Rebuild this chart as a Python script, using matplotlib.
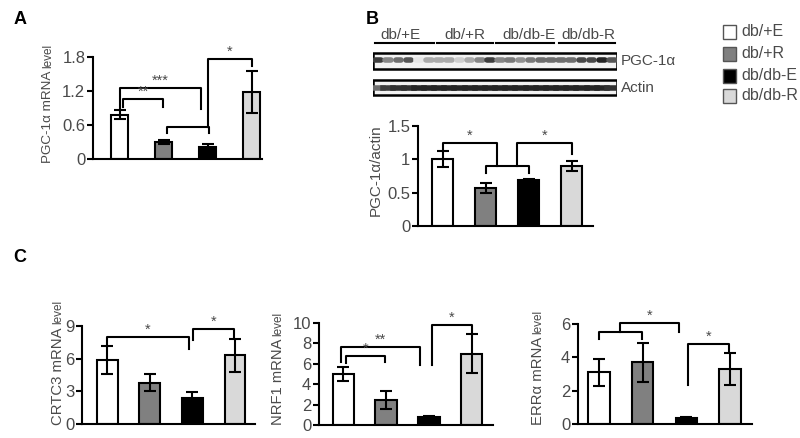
import matplotlib.pyplot as plt

plt.rcParams['font.family'] = ['Liberation Sans', 'DejaVu Sans']

groups = ["db/+E", "db/+R", "db/db-E", "db/db-R"]
colors = ["#ffffff", "#808080", "#000000", "#d9d9d9"]

# panel A
pgc_mrna = [0.78, 0.30, 0.21, 1.18]
pgc_mrna_err = [0.08, 0.04, 0.06, 0.37]
# panel B
pgc_actin = [1.0, 0.57, 0.69, 0.90]
pgc_actin_err = [0.12, 0.07, 0.02, 0.08]
# panel C
crtc3 = [5.9, 3.8, 2.35, 6.3]
crtc3_err = [1.3, 0.75, 0.55, 1.5]
nrf1 = [5.0, 2.45, 0.75, 7.0]
nrf1_err = [0.7, 0.85, 0.15, 1.9]
erra = [3.1, 3.7, 0.35, 3.3]
erra_err = [0.8, 1.15, 0.05, 0.95]

# blot band darkness per lane (24 lanes)
pgc_bands = [0.8, 0.5, 0.6, 0.7, 0.1, 0.35, 0.35, 0.35, 0.2, 0.35, 0.5, 0.8,
             0.5, 0.55, 0.45, 0.55, 0.6, 0.6, 0.6, 0.6, 0.75, 0.75, 0.9, 0.7]
actin_bands = [0.6, 0.8, 0.85, 0.85, 0.9, 0.9, 0.9, 0.9, 0.9, 0.9, 0.9, 0.9,
               0.9, 0.9, 0.9, 0.9, 0.9, 0.9, 0.9, 0.9, 0.9, 0.9, 0.9, 0.85]

W, H = 800, 438
fig = plt.figure(figsize=(8, 4.38), dpi=100)
renderer = fig.canvas.get_renderer()
txtc = "#4a4a4a"


def px_axes(x0, y0, x1, y1):
    return fig.add_axes([x0 / W, 1 - y1 / H, (x1 - x0) / W, (y1 - y0) / H])


def bars(ax, vals, errs, width, xlim, ymax, ticks, ticklabels):
    xs = range(len(vals))
    ax.bar(xs, vals, width=width, color=colors, edgecolor="black", linewidth=1.5, zorder=2)
    ax.errorbar(xs, vals, yerr=errs, fmt="none", ecolor="black", elinewidth=1.5,
                capsize=4, capthick=1.5, zorder=3)
    ax.set_xlim(*xlim)
    ax.set_ylim(0, ymax)
    ax.set_yticks(ticks)
    ax.set_yticklabels(ticklabels, fontsize=12, color=txtc)
    ax.set_xticks([])
    for s in ["top", "right"]:
        ax.spines[s].set_visible(False)
    for s in ["left", "bottom"]:
        ax.spines[s].set_linewidth(1.5)
    ax.tick_params(axis="y", length=4, width=1.5, pad=1.5)


def bracket(ax, x1, x2, y, yl, yr, star):
    ax.plot([x1, x1, x2, x2], [yl, y, y, yr], color="black", lw=1.5, clip_on=False)
    ax.text((x1 + x2) / 2, y, star, ha="center", va="bottom", fontsize=10.5,
            color=txtc, clip_on=False)


def ylabel(x, ybot, ytop, main, small):
    # main part sized to the span seen in the reference, "level" set smaller after it
    t = fig.text(x / W, 1 - ybot / H, main, rotation=90, ha="center", va="bottom",
                 fontsize=10.5, color=txtc)
    ext = t.get_window_extent(renderer)
    t.set_fontsize(10.5 * (ybot - ytop) / ext.height)
    ext = t.get_window_extent(renderer)
    fig.text(x / W, (ext.y1 + 3) / H, small, rotation=90, ha="center", va="bottom",
             fontsize=8.5, color=txtc)


# ---- A
axA = px_axes(93, 57, 262, 159)
bars(axA, pgc_mrna, pgc_mrna_err, 0.39, (-0.61, 3.23), 1.8,
     [0, 0.6, 1.2, 1.8], ["0", "0.6", "1.2", "1.8"])
bracket(axA, 0, 1.84, 1.25, 0.88, 0.88, "***")
bracket(axA, 0.07, 0.98, 1.06, 0.92, 0.92, "**")
bracket(axA, 1.07, 2.02, 0.56, 0.46, 0.46, "")
bracket(axA, 2.0, 3.0, 1.77, 0.56, 1.64, "*")
ylabel(48, 163, 70, "PGC-1\u03b1 mRNA", "level")
fig.text(20 / W, 1 - 20 / H, "A", fontsize=13, fontweight="bold", va="center", ha="center")

# ---- B blot
fig.text(372 / W, 1 - 20 / H, "B", fontsize=13, fontweight="bold", va="center", ha="center")
axBlot = px_axes(373, 30, 617, 100)
axBlot.set_xlim(0, 24)
axBlot.set_ylim(100, 30)
axBlot.axis("off")
lab_x = [2.7, 9.0, 15.3, 21.2]
under = [(0.2, 6.0), (6.3, 11.8), (12.1, 17.8), (18.3, 23.8)]
for g, lx, (u0, u1) in zip(groups, lab_x, under):
    axBlot.text(lx, 35, g, ha="center", va="center", fontsize=11, color=txtc)
    axBlot.plot([u0, u1], [43, 43], color="black", lw=1.5)
for y0, y1, vals, bw, lw, cap in [(53, 69, pgc_bands, 0.55, 4.0, "round"),
                                  (80, 95, actin_bands, 1.0, 4.0, "projecting")]:
    axBlot.add_patch(plt.Rectangle((0, y0), 24, y1 - y0, facecolor="#f2f2f2",
                                   edgecolor="black", lw=1.8))
    yc = (y0 + y1) / 2 + (-1.5 if y0 == 53 else 0.5)
    for i, d in enumerate(vals):
        c = str(round(1 - d * 0.95, 3))
        axBlot.plot([i + 0.5 - bw / 2, i + 0.5 + bw / 2], [yc, yc], color=c, lw=lw,
                    solid_capstyle=cap)
axBlot.text(24.4, 61, "PGC-1\u03b1", ha="left", va="center", fontsize=11, color=txtc)
axBlot.text(24.4, 88, "Actin", ha="left", va="center", fontsize=11, color=txtc)

# ---- B bars
axB = px_axes(418, 126, 593, 226)
bars(axB, pgc_actin, pgc_actin_err, 0.49, (-0.58, 3.49), 1.5,
     [0, 0.5, 1, 1.5], ["0", "0.5", "1", "1.5"])
bracket(axB, 0, 1.26, 1.25, 1.16, 0.90, "*")
bracket(axB, 1.0, 2.0, 0.90, 0.80, 0.80, "")
bracket(axB, 1.72, 3.0, 1.25, 0.90, 1.08, "*")
fig.text(376 / W, 1 - 170 / H, "PGC-1\u03b1/actin", rotation=90, ha="center", va="center",
         fontsize=11, color=txtc)

# legend
leg_y = [32, 54, 76, 96]
for g, c, y in zip(groups, colors, leg_y):
    fig.patches.append(plt.Rectangle((723 / W, 1 - (y + 7) / H), 13 / W, 14 / H,
                                     facecolor=c, edgecolor="#555555", lw=1,
                                     transform=fig.transFigure, figure=fig))
    fig.text(741 / W, 1 - y / H, g, ha="left", va="center", fontsize=11.5, color=txtc)

# ---- C
fig.text(20 / W, 1 - 257 / H, "C", fontsize=13, fontweight="bold", va="center", ha="center")

axC1 = px_axes(82, 326, 255, 424)
bars(axC1, crtc3, crtc3_err, 0.49, (-0.59, 3.47), 9, [0, 3, 6, 9], ["0", "3", "6", "9"])
bracket(axC1, 0, 1.92, 8.0, 7.3, 6.9, "*")
bracket(axC1, 2.01, 2.97, 8.7, 7.7, 8.0, "*")
ylabel(58, 425, 327, "CRTC3 mRNA", "level")

axC2 = px_axes(319, 323, 493, 425)
bars(axC2, nrf1, nrf1_err, 0.49, (-0.56, 3.49), 10, [0, 2, 4, 6, 8, 10],
     ["0", "2", "4", "6", "8", "10"])
bracket(axC2, -0.05, 1.79, 7.65, 6.2, 5.9, "**")
bracket(axC2, 0.07, 0.98, 6.75, 6.1, 6.2, "*")
bracket(axC2, 2.07, 3.0, 9.8, 5.9, 9.1, "*")
ylabel(278, 425, 338, "NRF1 mRNA", "level")

axC3 = px_axes(578, 324, 752, 424)
bars(axC3, erra, erra_err, 0.49, (-0.48, 3.5), 6, [0, 2, 4, 6], ["0", "2", "4", "6"])
bracket(axC3, 0, 0.98, 5.5, 5.1, 5.1, "")
bracket(axC3, 0.48, 1.83, 6.05, 5.5, 5.5, "*")
bracket(axC3, 2.04, 2.97, 4.8, 2.35, 4.4, "*")
ylabel(538, 425, 336, "ERR\u03b1 mRNA", "level")

fig.savefig("out.png", dpi=100)
